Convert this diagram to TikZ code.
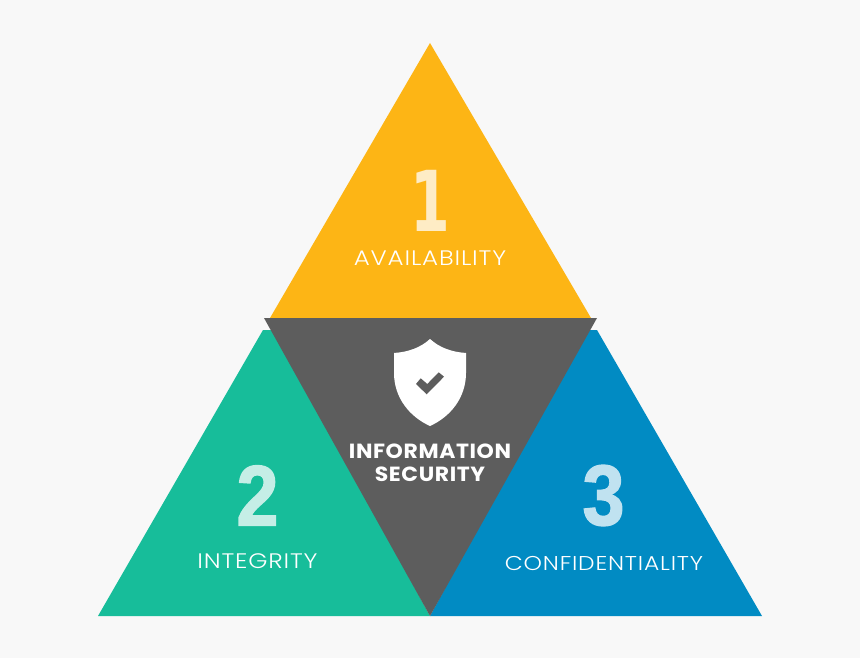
\documentclass[tikz,border=0pt]{standalone}
\usepackage{fontspec}
\newfontfamily\labelfont[FakeStretch=1.17,LetterSpace=4]{Poppins Light}
\newfontfamily\infofont[FakeStretch=1.07,LetterSpace=3]{Poppins}
\newfontfamily\numfont[FakeBold=1.5,FakeStretch=0.88]{Liberation Sans}
\newfontfamily\onefont[FakeStretch=0.68]{DejaVu Sans}
\definecolor{pagegray}{HTML}{F8F8F8}
\definecolor{availcolor}{HTML}{FDB515}
\definecolor{integcolor}{HTML}{17BD9A}
\definecolor{confcolor}{HTML}{018BC3}
\definecolor{infocolor}{HTML}{5D5D5D}

\begin{document}
\begin{tikzpicture}[x=1pt, y=-1pt, node distance=57pt,
    number/.style={inner sep=0pt, font=\numfont\fontsize{86}{86}\bfseries},
    pillar/.style={inner sep=0pt, text=white, font=\labelfont\fontsize{21}{21}\selectfont},
    center/.style={inner sep=0pt, text=white, font=\infofont\fontsize{20.5}{23}\bfseries, align=center}]
    \useasboundingbox (0,0) rectangle (860,658);
    \fill[pagegray] (0,0) rectangle (860,658);

    \fill[availcolor] (430,43) -- (591,318) -- (270,318) -- cycle;
    \fill[integcolor] (263,330) -- (275,330) -- (430,616) -- (98,616) -- cycle;
    \fill[confcolor] (597,330) -- (762,616) -- (430,616) -- (585,330) -- cycle;
    \fill[infocolor] (264,318) -- (597,318) -- (430,616) -- cycle;

    \node[number, text=white!75!availcolor, font=\onefont\fontsize{84}{84}\bfseries] (one) at (430,201) {1};
    \node[pillar, below of=one] (avail) {AVAILABILITY};
    \node[number, text=white!75!integcolor] (two) at (257.5,495.5) {2};
    \node[pillar] (integ) at (257.5,561) {INTEGRITY};
    \node[number, text=white!75!confcolor] (three) at (603.5,495.5) {3};
    \node[pillar, font=\labelfont\fontsize{20}{20}\selectfont] (conf) at (604,563) {CONFIDENTIALITY};

    % shield with tick
    \fill[white] (430,339) .. controls (420,348) and (408,352) .. (394,353) -- (394,373)
      .. controls (394,398) and (410,417) .. (430,426)
      .. controls (450,417) and (466,398) .. (466,373) -- (466,353)
      .. controls (452,352) and (440,348) .. (430,339) -- cycle;
    \fill[infocolor] (416,384) -- (420.7,378.3) -- (427.3,384) -- (438.7,372.3) -- (444,376.7) -- (426.7,394.3) -- cycle;

    \node[center] (info) at (430,462.5) {INFORMATION\\SECURITY};
  \end{tikzpicture}
\end{document}
